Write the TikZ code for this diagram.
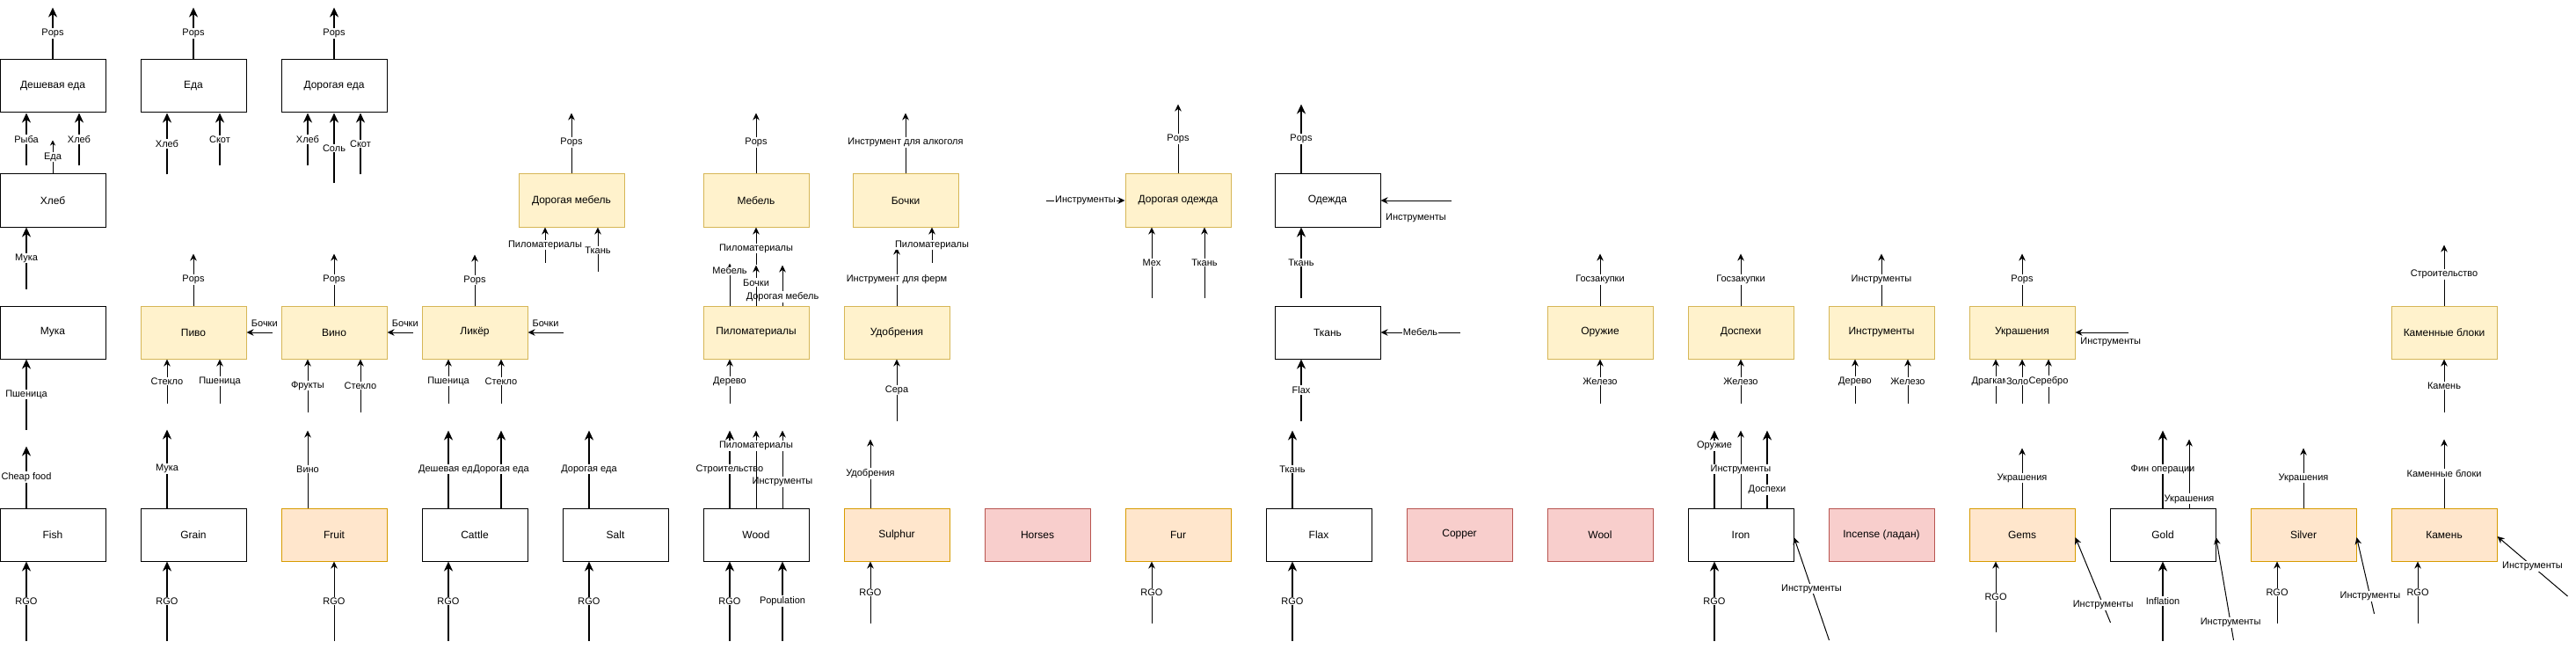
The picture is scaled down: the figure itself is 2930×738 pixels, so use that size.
\documentclass[tikz,border=0pt]{standalone}
\usepackage{fontspec}
\setmainfont{Liberation Sans}
\usepackage{tikz}
\usetikzlibrary{calc}
\usetikzlibrary{arrows.meta}

\definecolor{goldfill}{HTML}{FFF2CC}
\definecolor{golddraw}{HTML}{D6B656}
\definecolor{orangefill}{HTML}{FFE6CC}
\definecolor{orangedraw}{HTML}{D79B00}
\definecolor{redfill}{HTML}{F8CECC}
\definecolor{reddraw}{HTML}{B85450}

\begin{document}
\begin{tikzpicture}[x=1pt, y=-1pt,
	box/.style={draw, line width=1pt, minimum width=120pt, minimum height=60pt, inner sep=0pt, font=\fontsize{12}{14}\selectfont},
	plainbox/.style={box, fill=white},
	goldbox/.style={box, fill=goldfill, draw=golddraw},
	orangebox/.style={box, fill=orangefill, draw=orangedraw},
	redbox/.style={box, fill=redfill, draw=reddraw},
	lbl/.style={fill=white, inner sep=1pt, font=\fontsize{11}{13}\selectfont},
	flow/.style={line width=1pt, arrows=-{Stealth[length=8pt, width=7.5pt, inset=2.5pt]}},
	heavy/.style={line width=2pt, arrows=-{Stealth[length=11pt, width=10pt, inset=3.5pt]}},
	tiny flow/.style={line width=1pt, arrows=-{Stealth[length=6pt, width=6pt, inset=2pt]}}]
	\useasboundingbox (0,0) rectangle (2930,738);

	% raw resources
	\node [plainbox] (fish) at (60,608) {Fish};
	\node [plainbox] (grain) at (220,608) {Grain};
	\node [orangebox] (fruit) at (380,608) {Fruit};
	\node [plainbox] (cattle) at (540,608) {Cattle};
	\node [plainbox] (salt) at (700,608) {Salt};
	\node [plainbox] (wood) at (860,608) {Wood};
	\node [orangebox] (sulphur) at (1020,608) {Sulphur};
	\node [redbox] (horses) at (1180,608) {Horses};
	\node [orangebox] (fur) at (1340,608) {Fur};
	\node [plainbox] (flax) at (1500,608) {Flax};
	\node [redbox] (copper) at (1660,608) {Copper};
	\node [redbox] (wool) at (1820,608) {Wool};
	\node [plainbox] (iron) at (1980,608) {Iron};
	\node [redbox] (incense) at (2140,608) {Incense (ладан)};
	\node [orangebox] (gems) at (2300,608) {Gems};
	\node [plainbox] (gold) at (2460,608) {Gold};
	\node [orangebox] (silver) at (2620,608) {Silver};
	\node [orangebox] (kamen) at (2780,608) {Камень};

	% first factories
	\node [plainbox] (muka) at (60,378) {Мука};
	\node [goldbox] (pivo) at (220,378) {Пиво};
	\node [goldbox] (vino) at (380,378) {Вино};
	\node [goldbox] (liker) at (540,378) {Ликёр};
	\node [goldbox] (pilomat) at (860,378) {Пиломатериалы};
	\node [goldbox] (udobr) at (1020,378) {Удобрения};
	\node [plainbox] (tkan) at (1510,378) {Ткань};
	\node [goldbox] (oruzhie) at (1820,378) {Оружие};
	\node [goldbox] (dospehi) at (1980,378) {Доспехи};
	\node [goldbox] (instr) at (2140,378) {Инструменты};
	\node [goldbox] (ukrash) at (2300,378) {Украшения};
	\node [goldbox] (kbloki) at (2780,378) {Каменные блоки};

	% second factories
	\node [plainbox] (hleb) at (60,228) {Хлеб};
	\node [goldbox] (dmebel) at (650,228) {Дорогая мебель};
	\node [goldbox] (mebel) at (860,228) {Мебель};
	\node [goldbox] (bochki) at (1030,228) {Бочки};
	\node [goldbox] (dodezhda) at (1340,228) {Дорогая одежда};
	\node [plainbox] (odezhda) at (1510,228) {Одежда};

	% food
	\node [plainbox] (deshe) at (60,98) {Дешевая еда};
	\node [plainbox] (eda) at (220,98) {Еда};
	\node [plainbox] (doreda) at (380,98) {Дорогая еда};

	% fish, bread, cheap food
	\draw [heavy] (fish.south) ++(-30,90) -- node [lbl] {RGO} ++(0,-90);
	\draw [heavy] (fish.north) ++(-30,0) -- node [lbl] {Cheap food} ++(0,-70);
	\draw [heavy] (muka.south) ++(-30,80) -- node [lbl] {Пшеница} ++(0,-80);
	\draw [heavy] (hleb.south) ++(-30,70) -- node [lbl] {Мука} ++(0,-70);
	\draw [heavy] (deshe.south) ++(-30,60) -- node [lbl] {Рыба} ++(0,-60);
	\draw [heavy] (deshe.south) ++(30,60) -- node [lbl] {Хлеб} ++(0,-60);
	\draw [tiny flow] (hleb.north) -- node [lbl] {Еда} ++(0,-38);
	\draw [heavy] (deshe.north) -- node [lbl] {Pops} ++(0,-59);

	% grain, beer, food
	\draw [heavy] (grain.south) ++(-30,90) -- node [lbl] {RGO} ++(0,-90);
	\draw [heavy] (grain.north) ++(-30,0) -- node [lbl] {Мука} ++(0,-89);
	\draw [flow] (pivo.south) ++(-30,50) -- node [lbl] {Стекло} ++(0,-50);
	\draw [flow] (pivo.south) ++(30,50) -- node [lbl] {Пшеница} ++(0,-50);
	\draw [flow] (pivo.north) -- node [lbl] {Pops} ++(0,-59);
	\draw [flow] (vino.west) ++(-10,0) -- node [lbl, above=5pt, pos=.3] {Бочки} (pivo.east);
	\draw [heavy] (eda.south) ++(-30,70) -- node [lbl] {Хлеб} ++(0,-70);
	\draw [heavy] (eda.south) ++(30,60) -- node [lbl] {Скот} ++(0,-60);
	\draw [heavy] (eda.north) -- node [lbl] {Pops} ++(0,-59);

	% fruit, wine, expensive food
	\draw [flow] (fruit.south) ++(0,90) -- node [lbl] {RGO} ++(0,-90);
	\draw [flow] (fruit.north) ++(-30,0) -- node [lbl] {Вино} ++(0,-88);
	\draw [flow] (vino.south) ++(-30,60) -- node [lbl] {Фрукты} ++(0,-60);
	\draw [flow] (vino.south) ++(30,60) -- node [lbl] {Стекло} ++(0,-60);
	\draw [flow] (vino.north) -- node [lbl] {Pops} ++(0,-59);
	\draw [flow] (liker.west) ++(-10,0) -- node [lbl, above=5pt, pos=.3] {Бочки} (vino.east);
	\draw [heavy] (doreda.south) ++(-30,60) -- node [lbl] {Хлеб} ++(0,-60);
	\draw [heavy] (doreda.south) ++(0,80) -- node [lbl] {Соль} ++(0,-80);
	\draw [heavy] (doreda.south) ++(30,70) -- node [lbl] {Скот} ++(0,-70);
	\draw [heavy] (doreda.north) -- node [lbl] {Pops} ++(0,-59);

	% cattle, liquor, expensive furniture
	\draw [heavy] (cattle.south) ++(-30,90) -- node [lbl] {RGO} ++(0,-90);
	\draw [heavy] (cattle.north) ++(-30,0) -- node [lbl] {Дешевая еда} ++(0,-88);
	\draw [heavy] (cattle.north) ++(30,0) -- node [lbl] {Дорогая еда} ++(0,-88);
	\draw [flow] (liker.south) ++(-30,50) -- node [lbl] {Пшеница} ++(0,-50);
	\draw [flow] (liker.south) ++(30,50) -- node [lbl] {Стекло} ++(0,-50);
	\draw [flow] (liker.north) -- node [lbl] {Pops} ++(0,-58);
	\draw [flow] (liker.east) ++(40,0) -- node [lbl, above=5pt] {Бочки} (liker.east);
	\draw [flow] (dmebel.south) ++(-30,40) -- node [lbl] {Пиломатериалы} ++(0,-40);
	\draw [flow] (dmebel.south) ++(30,50) -- node [lbl, pos=.48] {Ткань} ++(0,-50);
	\draw [flow] (dmebel.north) -- node [lbl, pos=.52] {Pops} ++(0,-69);

	% salt
	\draw [heavy] (salt.south) ++(-30,90) -- node [lbl] {RGO} ++(0,-90);
	\draw [heavy] (salt.north) ++(-30,0) -- node [lbl] {Дорогая еда} ++(0,-88);

	% wood, lumber, furniture
	\draw [heavy] (wood.south) ++(-30,90) -- node [lbl] {RGO} ++(0,-90);
	\draw [heavy] (wood.south) ++(30,90) -- node [lbl] {Population} ++(0,-90);
	\draw [heavy] (wood.north) ++(-30,0) -- node [lbl] {Строительство} ++(0,-88);
	\draw [flow] (wood.north) ++(30,0) -- node [lbl, pos=.34] {Инструменты} ++(0,-88);
	\draw [flow] (wood.north) -- node [lbl, pos=.8] {Пиломатериалы} ++(0,-88);
	\draw [flow] (pilomat.south) ++(-30,50) -- node [lbl] {Дерево} ++(0,-50);
	\draw [flow] (pilomat.north) ++(-30,0) -- node [lbl, pos=.83] {Мебель} ++(0,-48);
	\draw [flow] (pilomat.north) ++(30,0) -- node [lbl, pos=.22] {Дорогая мебель} ++(0,-46);
	\draw [flow] (pilomat.north) -- node [lbl, pos=.57] {Бочки} ++(0,-46);
	\draw [flow] (mebel.south) ++(0,42) -- node [lbl, pos=.43] {Пиломатериалы} ++(0,-42);
	\draw [flow] (mebel.north) -- node [lbl, pos=.52] {Pops} ++(0,-69);

	% sulphur, fertilizer, barrels
	\draw [flow] (sulphur.south) ++(-30,70) -- node [lbl] {RGO} ++(0,-70);
	\draw [flow] (sulphur.north) ++(-30,0) -- node [lbl] {Удобрения} ++(0,-78);
	\draw [flow] (udobr.south) ++(0,70) -- node [lbl] {Сера} ++(0,-70);
	\draw [flow] (udobr.north) -- node [lbl, pos=.45] {Инструмент для ферм} ++(0,-66);
	\draw [flow] (bochki.south) ++(30,40) -- node [lbl] {Пиломатериалы} ++(0,-40);
	\draw [flow] (bochki.north) -- node [lbl, pos=.52] {Инструмент для алкоголя} ++(0,-69);

	% fur, expensive clothes
	\draw [flow] (fur.south) ++(-30,70) -- node [lbl] {RGO} ++(0,-70);
	\draw [flow] (dodezhda.south) ++(-30,80) -- node [lbl] {Мех} ++(0,-80);
	\draw [flow] (dodezhda.south) ++(30,80) -- node [lbl] {Ткань} ++(0,-80);
	\draw [flow] (dodezhda.west) ++(-90,0) -- node [lbl] {Инструменты} (dodezhda.west);
	\draw [flow] (dodezhda.north) -- node [lbl] {Pops} ++(0,-79);

	% flax, cloth, clothes
	\draw [heavy] (flax.south) ++(-30,90) -- node [lbl] {RGO} ++(0,-90);
	\draw [heavy] (flax.north) ++(-30,0) -- node [lbl] {Ткань} ++(0,-88);
	\draw [heavy] (tkan.south) ++(-30,70) -- node [lbl] {Flax} ++(0,-70);
	\draw [flow] (tkan.east) ++(90,0) -- node [lbl] {Мебель} (tkan.east);
	\draw [heavy] (odezhda.south) ++(-30,80) -- node [lbl] {Ткань} ++(0,-80);
	\draw [heavy] (odezhda.north) ++(-30,0) -- node [lbl] {Pops} ++(0,-79);
	\draw [flow] (odezhda.east) ++(80,0) -- node [lbl, below=13pt] {Инструменты} (odezhda.east);

	% weapons
	\draw [flow] (oruzhie.south) ++(0,50) -- node [lbl] {Железо} ++(0,-50);
	\draw [flow] (oruzhie.north) -- node [lbl] {Госзакупки} ++(0,-59);

	% iron, armour, tools
	\draw [heavy] (iron.south) ++(-30,90) -- node [lbl] {RGO} ++(0,-90);
	\draw [heavy] (iron.north) ++(-30,0) -- node [lbl, pos=.8] {Оружие} ++(0,-88);
	\draw [heavy] (iron.north) ++(30,0) -- node [lbl, pos=.23] {Доспехи} ++(0,-88);
	\draw [flow] (iron.north) -- node [lbl] {Инструменты} ++(0,-88);
	\draw [flow] (iron.east) ++(40,120) -- node [lbl] {Инструменты} ++(-40,-117);
	\draw [flow] (dospehi.south) ++(0,50) -- node [lbl] {Железо} ++(0,-50);
	\draw [flow] (dospehi.north) -- node [lbl] {Госзакупки} ++(0,-59);
	\draw [flow] (instr.south) ++(-30,50) -- node [lbl] {Дерево} ++(0,-50);
	\draw [flow] (instr.south) ++(30,50) -- node [lbl] {Железо} ++(0,-50);
	\draw [flow] (instr.north) -- node [lbl] {Инструменты} ++(0,-59);

	% gems, jewellery
	\draw [flow] (gems.south) ++(-30,80) -- node [lbl] {RGO} ++(0,-80);
	\draw [flow] (gems.east) ++(40,100) -- node [lbl, pos=.21] {Инструменты} ++(-40,-97);
	\draw [flow] (gems.north) -- node [lbl] {Украшения} ++(0,-68);
	\draw [flow] (ukrash.south) ++(-30,50) -- node [lbl] {Драгкамни} ++(0,-50);
	\draw [flow] (ukrash.south) ++(0,50) -- node [lbl] {Золото} ++(0,-50);
	\draw [flow] (ukrash.south) ++(30,50) -- node [lbl] {Серебро} ++(0,-50);
	\draw [flow] (ukrash.east) ++(60,0) -- node [lbl, below=4pt, pos=.33] {Инструменты} (ukrash.east);
	\draw [flow] (ukrash.north) -- node [lbl] {Pops} ++(0,-59);

	% gold
	\draw [heavy] (gold.south) ++(0,90) -- node [lbl] {Inflation} ++(0,-90);
	\draw [flow] (gold.east) ++(20,120) -- node [lbl, pos=.17] {Инструменты} ++(-20,-117);
	\draw [heavy] (gold.north) -- node [lbl] {Фин операции} ++(0,-88);
	\draw [flow] (gold.north) ++(30,0) -- node [lbl, pos=.13] {Украшения} ++(0,-78);

	% silver
	\draw [flow] (silver.south) ++(-30,70) -- node [lbl] {RGO} ++(0,-70);
	\draw [flow] (silver.east) ++(20,90) -- node [lbl, pos=.23] {Инструменты} ++(-20,-87);
	\draw [flow] (silver.north) -- node [lbl] {Украшения} ++(0,-68);

	% stone, stone blocks
	\draw [flow] (kamen.south) ++(-30,70) -- node [lbl] {RGO} ++(0,-70);
	\draw [flow] (kamen.east) ++(80,70) -- node [lbl] {Инструменты} ++(-80,-68);
	\draw [flow] (kamen.north) -- node [lbl] {Каменные блоки} ++(0,-78);
	\draw [flow] (kbloki.south) ++(0,60) -- node [lbl] {Камень} ++(0,-60);
	\draw [flow] (kbloki.north) -- node [lbl, pos=.52] {Строительство} ++(0,-69);

\end{tikzpicture}
\end{document}
